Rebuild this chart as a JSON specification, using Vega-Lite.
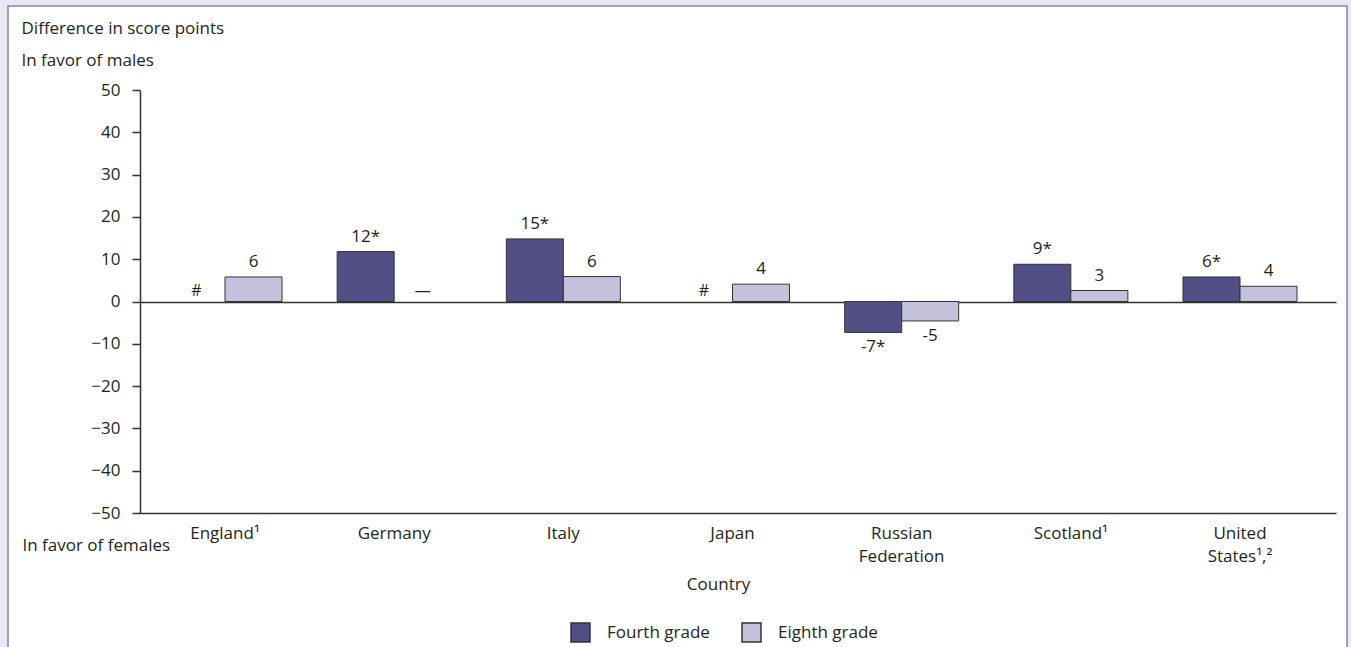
{
  "$schema": "https://vega.github.io/schema/vega-lite/v6.json",
  "width": 1339,
  "height": 646,
  "autosize": {"type": "none"},
  "padding": {"left": 8, "top": 6, "right": 4, "bottom": 0},
  "background": "#E8E8F2",
  "config": {
    "view": {"fill": "#FFFFFF", "stroke": "#8582B8", "strokeWidth": 1.5},
    "font": "Open Sans",
    "text": {"font": "Open Sans", "color": "#231F20"},
    "axis": {"labelFont": "Open Sans", "titleFont": "Open Sans", "labelColor": "#231F20", "titleColor": "#231F20", "labelFontSize": 17, "titleFontSize": 17, "titleFontWeight": "normal"},
    "legend": {"labelFont": "Open Sans", "labelColor": "#231F20", "labelFontSize": 17}
  },
  "data": {
    "values": [
      {"country": "England¹", "grade": "Fourth grade", "value": null, "label": "#"},
      {"country": "England¹", "grade": "Eighth grade", "value": 5.8, "label": "6"},
      {"country": "Germany", "grade": "Fourth grade", "value": 11.8, "label": "12*"},
      {"country": "Germany", "grade": "Eighth grade", "value": null, "label": "—"},
      {"country": "Italy", "grade": "Fourth grade", "value": 14.8, "label": "15*"},
      {"country": "Italy", "grade": "Eighth grade", "value": 5.9, "label": "6"},
      {"country": "Japan", "grade": "Fourth grade", "value": null, "label": "#"},
      {"country": "Japan", "grade": "Eighth grade", "value": 4.1, "label": "4"},
      {"country": "Russian|Federation", "grade": "Fourth grade", "value": -7.3, "label": "-7*"},
      {"country": "Russian|Federation", "grade": "Eighth grade", "value": -4.6, "label": "-5"},
      {"country": "Scotland¹", "grade": "Fourth grade", "value": 8.8, "label": "9*"},
      {"country": "Scotland¹", "grade": "Eighth grade", "value": 2.6, "label": "3"},
      {"country": "United|States¹,²", "grade": "Fourth grade", "value": 5.8, "label": "6*"},
      {"country": "United|States¹,²", "grade": "Eighth grade", "value": 3.6, "label": "4"}
    ]
  },
  "resolve": {"axis": {"x": "independent", "y": "independent"}},
  "layer": [
    {
      "mark": {"type": "bar", "stroke": "#333333", "strokeWidth": 1},
      "encoding": {
        "x": {
          "field": "country", "type": "nominal", "sort": null,
          "scale": {"range": [132, 1328], "paddingInner": 0.326, "paddingOuter": 0.198, "align": 0.418},
          "axis": {
            "orient": "bottom", "offset": -139, "title": "Country", "titleX": 710, "titleY": 63,
            "titleAlign": "center", "titleBaseline": "top", "labelExpr": "split(datum.value, '|')",
            "labelAngle": 0, "labelPadding": 12, "ticks": false, "labelLineHeight": 23,
            "domainColor": "#333333", "domainWidth": 1.5, "grid": false
          }
        },
        "xOffset": {"field": "grade", "type": "nominal", "sort": ["Fourth grade", "Eighth grade"], "scale": {"paddingInner": 0, "paddingOuter": 0}},
        "y": {
          "field": "value", "type": "quantitative",
          "scale": {"domain": [-50, 50], "range": [507, 84], "nice": false, "zero": false},
          "axis": {
            "orient": "left", "offset": -132, "values": [-50, -40, -30, -20, -10, 0, 10, 20, 30, 40, 50],
            "tickSize": 8, "labelPadding": 12, "domainColor": "#333333", "tickColor": "#333333",
            "domainWidth": 1.5, "tickWidth": 1.5, "grid": false,
            "title": ["Difference in score points", "In favor of males"], "titleAngle": 0,
            "titleAlign": "left", "titleBaseline": "top", "titleX": -119, "titleY": 14, "titleLineHeight": 32
          }
        },
        "color": {
          "field": "grade", "type": "nominal",
          "scale": {"domain": ["Fourth grade", "Eighth grade"], "range": ["#524E86", "#C4C2DB"]},
          "legend": {
            "orient": "none", "legendX": 562, "legendY": 616, "direction": "horizontal", "title": null,
            "symbolType": "square", "symbolSize": 361, "symbolStrokeColor": "#333333", "symbolStrokeWidth": 1.5,
            "symbolOpacity": 1, "labelOffset": 16, "columnPadding": 29
          }
        }
      }
    },
    {
      "transform": [{"filter": "datum.value !== null && datum.value >= 0"}],
      "mark": {"type": "text", "fontSize": 17, "baseline": "bottom", "dy": -6},
      "encoding": {
        "x": {"field": "country", "type": "nominal", "sort": null, "axis": null},
        "xOffset": {"field": "grade", "type": "nominal", "sort": ["Fourth grade", "Eighth grade"]},
        "y": {"field": "value", "type": "quantitative", "axis": null},
        "text": {"field": "label"}
      }
    },
    {
      "transform": [{"filter": "datum.value !== null && datum.value < 0"}],
      "mark": {"type": "text", "fontSize": 17, "baseline": "top", "dy": 7},
      "encoding": {
        "x": {"field": "country", "type": "nominal", "sort": null, "axis": null},
        "xOffset": {"field": "grade", "type": "nominal", "sort": ["Fourth grade", "Eighth grade"]},
        "y": {"field": "value", "type": "quantitative", "axis": null},
        "text": {"field": "label"}
      }
    },
    {
      "transform": [{"filter": "datum.value === null"}],
      "mark": {"type": "text", "fontSize": 16, "baseline": "bottom", "dy": -3},
      "encoding": {
        "x": {
          "field": "country", "type": "nominal", "sort": null,
          "axis": {
            "orient": "bottom", "offset": -139, "title": "In favor of females", "titleX": 14, "titleY": 24,
            "titleAlign": "left", "titleBaseline": "top", "labels": false, "ticks": false, "domain": false, "grid": false
          }
        },
        "xOffset": {"field": "grade", "type": "nominal", "sort": ["Fourth grade", "Eighth grade"]},
        "y": {
          "datum": 0, "type": "quantitative",
          "axis": {
            "orient": "left", "offset": -132, "values": [0], "labels": false, "ticks": false, "domain": false,
            "title": null, "grid": true, "gridColor": "#333333", "gridWidth": 1.5
          }
        },
        "text": {"field": "label"}
      }
    }
  ]
}
